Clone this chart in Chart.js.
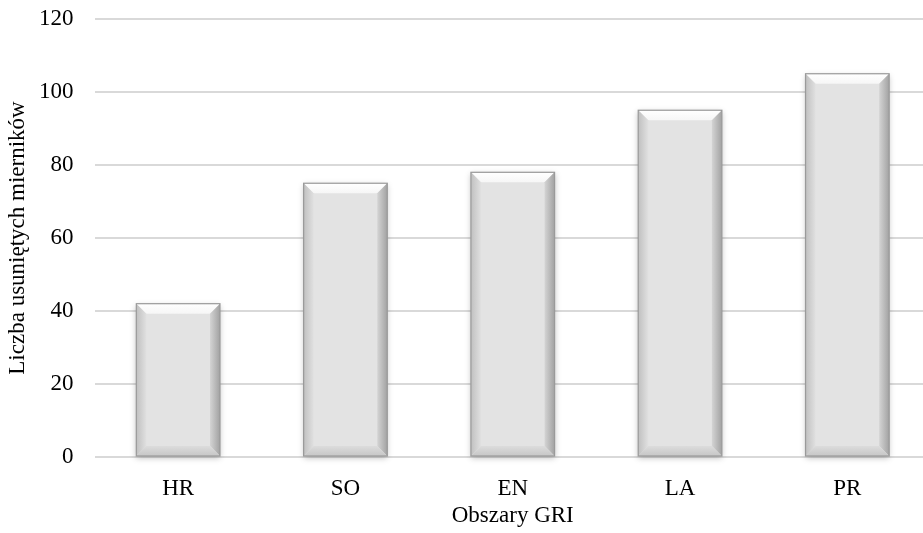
<!DOCTYPE html>
<html>
<head>
<meta charset="utf-8">
<script src="https://cdn.jsdelivr.net/npm/chart.js@4"></script>
<style>
  html, body { margin: 0; padding: 0; background: #fff; overflow: hidden; }
  #wrap { width: 923px; height: 533px; overflow: hidden; }
</style>
</head>
<body>
<div id="wrap"><canvas id="chart" width="931" height="533"></canvas></div>
<script>
const categories = ['HR', 'SO', 'EN', 'LA', 'PR'];
const counts = [42, 75, 78, 95, 105];
const yTicks = [0, 20, 40, 60, 80, 100, 120];

const FONT = '"Liberation Serif", "Times New Roman", serif';

// bevelled bars, drawn over the library's own bar elements
const bevel = {
  id: 'bevel',
  beforeDatasetsDraw(chart) {
    const ctx = chart.ctx;
    chart.getDatasetMeta(0).data.forEach(b => {
      const l = b.x - b.width / 2, t = b.y, h = b.base - b.y;
      ctx.save();
      ctx.shadowColor = 'rgba(0,0,0,0.25)';
      ctx.shadowBlur = 6;
      ctx.shadowOffsetY = 2;
      ctx.fillStyle = '#e3e3e3';
      ctx.fillRect(l, t, b.width, h);
      ctx.restore();
    });
  },
  afterDatasetsDraw(chart) {
    const ctx = chart.ctx;
    const d = 10;
    chart.getDatasetMeta(0).data.forEach(b => {
      const l = b.x - b.width / 2, r = b.x + b.width / 2, t = b.y, bo = b.base;
      const poly = (pts, fill) => {
        ctx.beginPath();
        ctx.moveTo(pts[0][0], pts[0][1]);
        pts.slice(1).forEach(p => ctx.lineTo(p[0], p[1]));
        ctx.closePath();
        ctx.fillStyle = fill;
        ctx.fill();
      };
      ctx.save();
      // top
      let g = ctx.createLinearGradient(0, t, 0, t + d);
      g.addColorStop(0, '#ffffff');
      g.addColorStop(1, '#f6f6f6');
      poly([[l, t], [r, t], [r - d, t + d], [l + d, t + d]], g);
      // left
      g = ctx.createLinearGradient(l, 0, l + d, 0);
      g.addColorStop(0, '#c0c0c0');
      g.addColorStop(1, '#e0e0e0');
      poly([[l, t], [l + d, t + d], [l + d, bo - d], [l, bo]], g);
      // right
      g = ctx.createLinearGradient(r - d, 0, r, 0);
      g.addColorStop(0, '#d4d4d4');
      g.addColorStop(1, '#a2a2a2');
      poly([[r, t], [r, bo], [r - d, bo - d], [r - d, t + d]], g);
      // bottom
      g = ctx.createLinearGradient(0, bo - d, 0, bo);
      g.addColorStop(0, '#dcdcdc');
      g.addColorStop(1, '#c6c6c6');
      poly([[l, bo], [r, bo], [r - d, bo - d], [l + d, bo - d]], g);
      ctx.strokeStyle = '#9a9a9a';
      ctx.lineWidth = 1.2;
      ctx.strokeRect(l, t, r - l, bo - t);
      ctx.restore();
    });
  }
};

new Chart(document.getElementById('chart'), {
  type: 'bar',
  data: {
    labels: categories,
    datasets: [{
      data: counts,
      backgroundColor: 'rgba(0,0,0,0)',
      borderWidth: 0,
      barPercentage: 1,
      categoryPercentage: 0.5,
    }],
  },
  options: {
    responsive: false,
    devicePixelRatio: 1,
    animation: false,
    layout: { padding: { top: 19, right: 0, bottom: 0, left: 0 } },
    plugins: { legend: { display: false }, tooltip: { enabled: false } },
    scales: {
      x: {
        grid: { display: false },
        border: { display: false },
        ticks: { color: '#000', font: { family: FONT, size: 23 }, padding: 10 },
        title: {
          display: true, text: 'Obszary GRI', color: '#000',
          font: { family: FONT, size: 23 }, padding: { top: 0, bottom: 3 },
        },
        afterFit(s) { s.height = 76; s.paddingLeft = 0; s.paddingRight = 0; },
      },
      y: {
        min: 0, max: 120,
        afterBuildTicks(s) { s.ticks = yTicks.map(v => ({ value: v })); },
        grid: { color: '#d9d9d9', lineWidth: 2, drawTicks: false },
        border: { display: false },
        ticks: { color: '#000', font: { family: FONT, size: 23 }, padding: 21 },
        title: {
          display: true, text: 'Liczba usuniętych mierników', color: '#000',
          font: { family: FONT, size: 23 }, padding: { top: 4, bottom: 0 },
        },
        afterFit(s) { s.width = 94.5; s.paddingTop = 0; s.paddingBottom = 0; },
      },
    },
  },
  plugins: [bevel],
});
</script>
</body>
</html>
